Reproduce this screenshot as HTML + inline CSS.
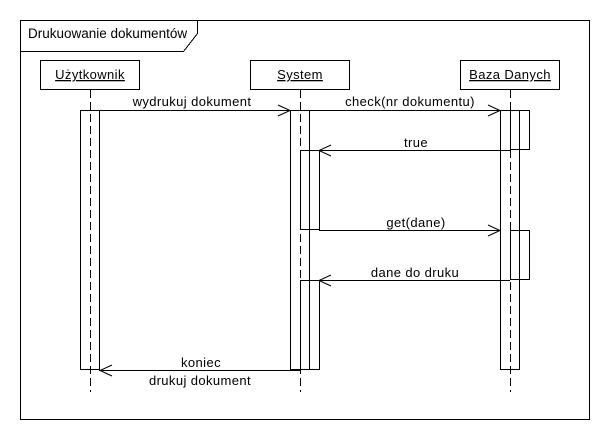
<!DOCTYPE html>
<html><head><meta charset="utf-8"><style>
body{margin:0;background:#fff;}
svg text{font-family:"Liberation Sans",sans-serif;font-size:13px;letter-spacing:0.4px;fill:#000;}
</style></head><body>
<svg width="610" height="440" xmlns="http://www.w3.org/2000/svg">
<g fill="none" stroke="#000" stroke-width="1" shape-rendering="crispEdges">
<rect x="20.5" y="20.5" width="569" height="399" fill="#fff"/>
<polyline points="20.5,51.5 183.5,51.5 197.5,33.5 197.5,20.5"/>
<rect x="40.5" y="60.5" width="99" height="29" fill="#fff"/>
<rect x="250.5" y="60.5" width="99" height="29" fill="#fff"/>
<rect x="460.5" y="60.5" width="99" height="29" fill="#fff"/>
<g stroke-dasharray="8,4">
<line x1="90.5" y1="90" x2="90.5" y2="392"/>
<line x1="300.5" y1="90" x2="300.5" y2="392"/>
<line x1="510.5" y1="90" x2="510.5" y2="392"/>
</g>
<rect x="80.5" y="110.5" width="19" height="259"/>
<rect x="290.5" y="110.5" width="19" height="259"/>
<rect x="300.5" y="150.5" width="19" height="79"/>
<rect x="300.5" y="280.5" width="19" height="89"/>
<rect x="500.5" y="110.5" width="19" height="259"/>
<rect x="510.5" y="110.5" width="19" height="39"/>
<rect x="510.5" y="230.5" width="19" height="49"/>
<line x1="99" y1="110.5" x2="290" y2="110.5"/>
<line x1="309" y1="110.5" x2="500" y2="110.5"/>
<line x1="510" y1="150.5" x2="319" y2="150.5"/>
<line x1="319" y1="230.5" x2="500" y2="230.5"/>
<line x1="510" y1="280.5" x2="319" y2="280.5"/>
<line x1="300" y1="370.5" x2="99" y2="370.5"/>
</g>
<g fill="none" stroke="#000" stroke-width="1">
<polyline points="278,105 290,110.5 278,116"/>
<polyline points="488,105 500,110.5 488,116"/>
<polyline points="331,145 319,150.5 331,156"/>
<polyline points="488,225 500,230.5 488,236"/>
<polyline points="331,275 319,280.5 331,286"/>
<polyline points="112,365 100,370.5 112,376"/>
</g>
<text x="28" y="38" style="font-size:13.5px;letter-spacing:0px">Drukuowanie dokumentów</text>
<text x="90" y="79" text-anchor="middle" text-decoration="underline">Użytkownik</text>
<text x="300" y="79" text-anchor="middle" text-decoration="underline">System</text>
<text x="510" y="79" text-anchor="middle" text-decoration="underline">Baza Danych</text>
<text x="192" y="106" text-anchor="middle">wydrukuj dokument</text>
<text x="410" y="106" text-anchor="middle">check(nr dokumentu)</text>
<text x="416" y="147" text-anchor="middle">true</text>
<text x="416" y="227" text-anchor="middle">get(dane)</text>
<text x="415" y="277" text-anchor="middle">dane do druku</text>
<text x="201" y="367" text-anchor="middle">koniec</text>
<text x="200" y="385" text-anchor="middle">drukuj dokument</text>
</svg>
</body></html>
